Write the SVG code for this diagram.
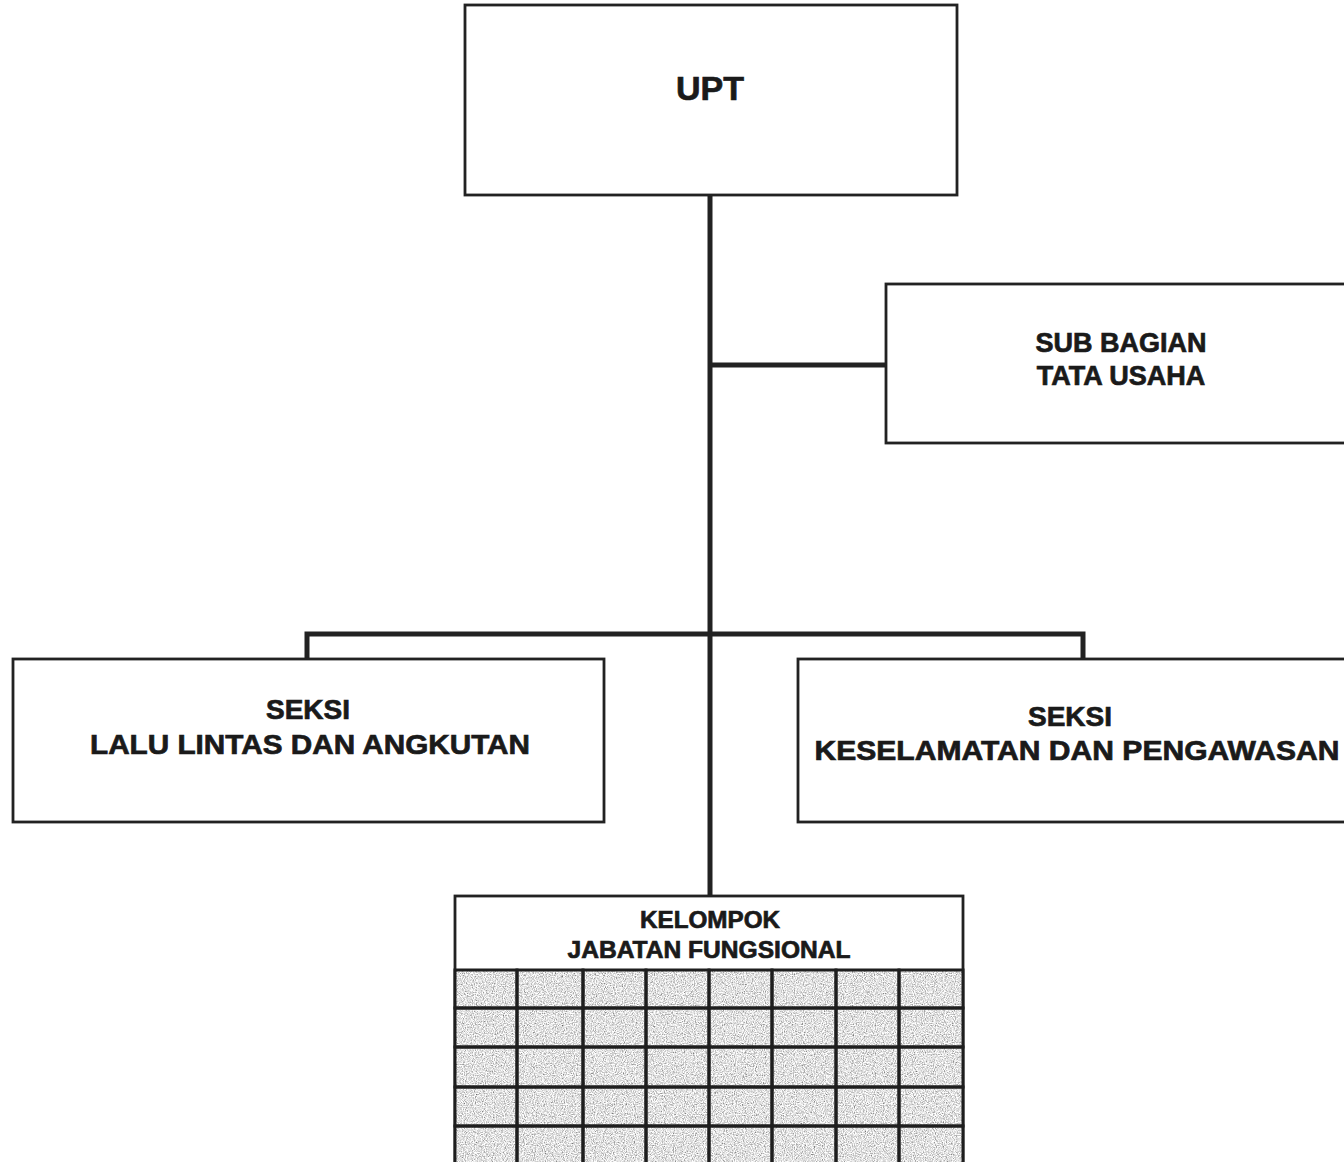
<svg xmlns="http://www.w3.org/2000/svg" width="1344" height="1162" viewBox="0 0 1344 1162">
<defs>
<filter id="speckle" x="0" y="0" width="1" height="1">
<feTurbulence type="fractalNoise" baseFrequency="0.9" numOctaves="2" seed="3"/>
<feColorMatrix type="matrix" values="1.55 0 0 0 -0.02  1.55 0 0 0 -0.02  1.55 0 0 0 -0.02  0 0 0 0 1"/>
</filter>
</defs>
<style>
.box{fill:#fff;stroke:#222;stroke-width:2.8}
.conn{fill:none;stroke:#222;stroke-width:5}
.t{font-family:"Liberation Sans",Arial,sans-serif;font-weight:bold;fill:#1a1a1a;stroke:#1a1a1a;stroke-width:0.7;text-anchor:middle}
.cell{fill:none;stroke:#1e1e1e;stroke-width:3}
</style>
<rect width="1344" height="1162" fill="#fff"/>
<g id="connectors">
<line class="conn" x1="710" y1="195" x2="710" y2="896"/>
<line class="conn" x1="710" y1="365" x2="886" y2="365"/>
<polyline class="conn" points="307,659 307,634 1083,634 1083,659"/>
</g>
<g id="upt">
<rect class="box" x="465" y="5" width="492" height="190"/>
<text class="t" x="710" y="100" font-size="34">UPT</text>
</g>
<g id="sub-bagian">
<rect class="box" x="886" y="284" width="470" height="159"/>
<text class="t" x="1121" y="352" font-size="27">SUB BAGIAN</text>
<text class="t" x="1121" y="385" font-size="27">TATA USAHA</text>
</g>
<g id="seksi-lalu">
<rect class="box" x="13" y="659" width="591" height="163"/>
<text class="t" x="308" y="719" font-size="28">SEKSI</text>
<text class="t" x="310" y="754" font-size="28" textLength="440" lengthAdjust="spacingAndGlyphs">LALU LINTAS DAN ANGKUTAN</text>
</g>
<g id="seksi-keselamatan">
<rect class="box" x="798" y="659" width="560" height="163"/>
<text class="t" x="1070" y="726" font-size="28">SEKSI</text>
<text class="t" x="1077" y="760" font-size="28" textLength="525" lengthAdjust="spacingAndGlyphs">KESELAMATAN DAN PENGAWASAN</text>
</g>
<g id="kelompok">
<rect class="box" x="455" y="896" width="508" height="280"/>
<text class="t" x="710" y="928" font-size="24" textLength="140" lengthAdjust="spacingAndGlyphs">KELOMPOK</text>
<text class="t" x="709" y="958" font-size="24" textLength="283" lengthAdjust="spacingAndGlyphs">JABATAN FUNGSIONAL</text>
<g id="grid">
<rect x="455" y="970" width="508" height="200" filter="url(#speckle)"/>
<rect class="cell" x="455" y="970" width="62" height="38"/><rect class="cell" x="517" y="970" width="66" height="38"/><rect class="cell" x="583" y="970" width="63" height="38"/><rect class="cell" x="646" y="970" width="63" height="38"/><rect class="cell" x="709" y="970" width="63" height="38"/><rect class="cell" x="772" y="970" width="64" height="38"/><rect class="cell" x="836" y="970" width="63" height="38"/><rect class="cell" x="899" y="970" width="64" height="38"/>
<rect class="cell" x="455" y="1008" width="62" height="39"/><rect class="cell" x="517" y="1008" width="66" height="39"/><rect class="cell" x="583" y="1008" width="63" height="39"/><rect class="cell" x="646" y="1008" width="63" height="39"/><rect class="cell" x="709" y="1008" width="63" height="39"/><rect class="cell" x="772" y="1008" width="64" height="39"/><rect class="cell" x="836" y="1008" width="63" height="39"/><rect class="cell" x="899" y="1008" width="64" height="39"/>
<rect class="cell" x="455" y="1047" width="62" height="40"/><rect class="cell" x="517" y="1047" width="66" height="40"/><rect class="cell" x="583" y="1047" width="63" height="40"/><rect class="cell" x="646" y="1047" width="63" height="40"/><rect class="cell" x="709" y="1047" width="63" height="40"/><rect class="cell" x="772" y="1047" width="64" height="40"/><rect class="cell" x="836" y="1047" width="63" height="40"/><rect class="cell" x="899" y="1047" width="64" height="40"/>
<rect class="cell" x="455" y="1087" width="62" height="39"/><rect class="cell" x="517" y="1087" width="66" height="39"/><rect class="cell" x="583" y="1087" width="63" height="39"/><rect class="cell" x="646" y="1087" width="63" height="39"/><rect class="cell" x="709" y="1087" width="63" height="39"/><rect class="cell" x="772" y="1087" width="64" height="39"/><rect class="cell" x="836" y="1087" width="63" height="39"/><rect class="cell" x="899" y="1087" width="64" height="39"/>
<rect class="cell" x="455" y="1126" width="62" height="50"/><rect class="cell" x="517" y="1126" width="66" height="50"/><rect class="cell" x="583" y="1126" width="63" height="50"/><rect class="cell" x="646" y="1126" width="63" height="50"/><rect class="cell" x="709" y="1126" width="63" height="50"/><rect class="cell" x="772" y="1126" width="64" height="50"/><rect class="cell" x="836" y="1126" width="63" height="50"/><rect class="cell" x="899" y="1126" width="64" height="50"/>
</g>
</g>
</svg>
